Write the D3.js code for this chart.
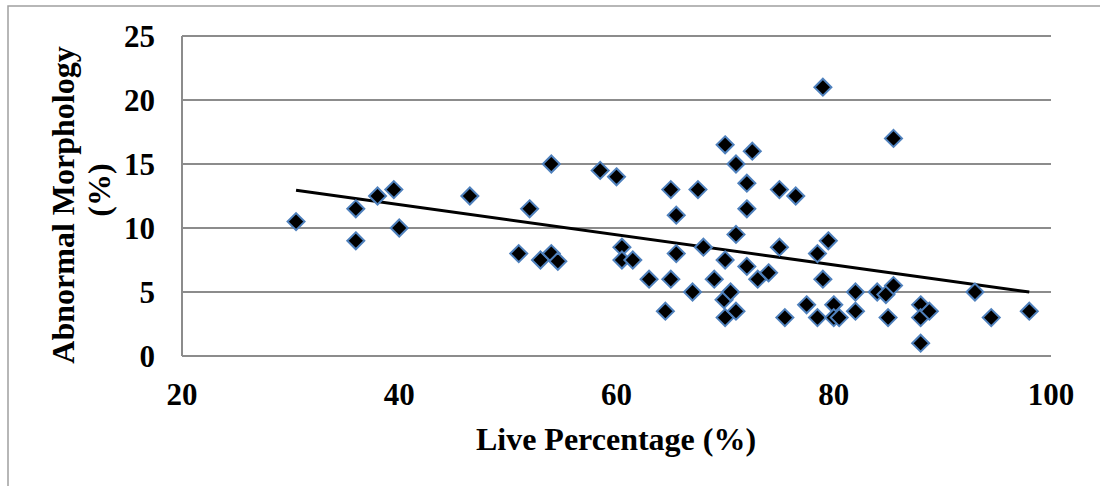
<!DOCTYPE html>
<html>
<head>
<meta charset="utf-8">
<script src="https://cdn.jsdelivr.net/npm/d3@7"></script>
<style>
  body { margin: 0; background: #fff; }
  svg text { font-family: "Liberation Serif", "Times New Roman", serif; font-weight: bold; fill: #000; }
</style>
</head>
<body>
<svg id="chart" width="1100" height="486"></svg>
<script>
// values
var livePct = [30.5, 36, 36, 38, 39.5, 40, 46.5, 52, 51, 53, 54, 54.6, 54, 58.5, 60, 60.5, 60.5, 61.5, 63, 64.5,
  65, 65, 65.5, 65.5, 67, 67.5, 68, 69, 70, 70, 69.9, 70, 70.5, 71, 71, 71, 72, 72, 72, 72.5,
  73, 74, 75, 75, 75.5, 76.5, 77.5, 78.5, 78.5, 79, 79, 79.5, 80, 80, 80.5, 82, 82, 84, 84.8, 85,
  85.5, 85.5, 88, 88, 88, 88.8, 93, 94.5, 98];
var abnormal = [10.5, 11.5, 9, 12.5, 13, 10, 12.5, 11.5, 8, 7.5, 8, 7.4, 15, 14.5, 14, 8.5, 7.5, 7.5, 6, 3.5,
  13, 6, 11, 8, 5, 13, 8.5, 6, 16.5, 7.5, 4.4, 3, 5, 15, 9.5, 3.5, 13.5, 11.5, 7, 16,
  6, 6.5, 13, 8.5, 3, 12.5, 4, 8, 3, 21, 6, 9, 4, 3, 3, 5, 3.5, 5, 4.8, 3,
  5.5, 17, 4, 3, 1, 3.5, 5, 3, 3.5];
var trendX = [30.5, 98];
var trendY = [12.95, 5.0];
var xTicks = [20, 40, 60, 80, 100];
var yTicks = [0, 5, 10, 15, 20, 25];

var svg = d3.select('#chart');
var margin = {l: 182, r: 49, t: 36, b: 130};
var W = 1100, H = 486;

var x = d3.scaleLinear().domain([20, 100]).range([margin.l, W - margin.r]);
var y = d3.scaleLinear().domain([0, 25]).range([H - margin.b, margin.t]);

// outer border
svg.append('path')
  .attr('d', 'M8,' + (H + 2) + 'V6H1100')
  .attr('fill', 'none')
  .attr('stroke', '#a0a0a0')
  .attr('stroke-width', 1.5);

// gridlines
svg.append('g')
  .selectAll('line')
  .data(yTicks)
  .join('line')
  .attr('x1', x(20))
  .attr('x2', x(100))
  .attr('y1', d => y(d))
  .attr('y2', d => y(d))
  .attr('stroke', '#8c8c8c')
  .attr('stroke-width', 2);

svg.append('line')
  .attr('x1', x(20)).attr('x2', x(20))
  .attr('y1', y(0)).attr('y2', y(25))
  .attr('stroke', '#8c8c8c')
  .attr('stroke-width', 2);

// tick labels
svg.append('g')
  .selectAll('text')
  .data(yTicks)
  .join('text')
  .attr('x', x(20) - 27)
  .attr('y', d => y(d))
  .attr('dy', '0.35em')
  .attr('text-anchor', 'end')
  .style('font-size', '31px')
  .text(d => d);

svg.append('g')
  .selectAll('text')
  .data(xTicks)
  .join('text')
  .attr('x', d => x(d))
  .attr('y', 394)
  .attr('dy', '0.35em')
  .attr('text-anchor', 'middle')
  .style('font-size', '31px')
  .text(d => d);

// axis titles
svg.append('text')
  .attr('x', 616)
  .attr('y', 439)
  .attr('dy', '0.35em')
  .attr('text-anchor', 'middle')
  .style('font-size', '32px')
  .text('Live Percentage (%)');

var yTitle = svg.append('text')
  .attr('transform', 'translate(0,205) rotate(-90)')
  .attr('text-anchor', 'middle')
  .style('font-size', '32px');
yTitle.append('tspan').attr('x', 0).attr('y', 63).attr('dy', '0.35em').text('Abnormal Morphology');
yTitle.append('tspan').attr('x', 15).attr('y', 99).attr('dy', '0.35em').text('(%)');

// trend line
svg.append('path')
  .datum(trendX.map((d, i) => [d, trendY[i]]))
  .attr('d', d3.line().x(d => x(d[0])).y(d => y(d[1])))
  .attr('fill', 'none')
  .attr('stroke', '#000')
  .attr('stroke-width', 3);

// points
var r = 8.5;
svg.append('g')
  .selectAll('path')
  .data(livePct.map((d, i) => [d, abnormal[i]]))
  .join('path')
  .attr('d', d => {
    var cx = x(d[0]), cy = y(d[1]);
    return 'M' + cx + ',' + (cy - r) + 'L' + (cx + r) + ',' + cy + 'L' + cx + ',' + (cy + r) + 'L' + (cx - r) + ',' + cy + 'Z';
  })
  .attr('fill', '#000')
  .attr('stroke', '#4f81bd')
  .attr('stroke-width', 2);
</script>
</body>
</html>
